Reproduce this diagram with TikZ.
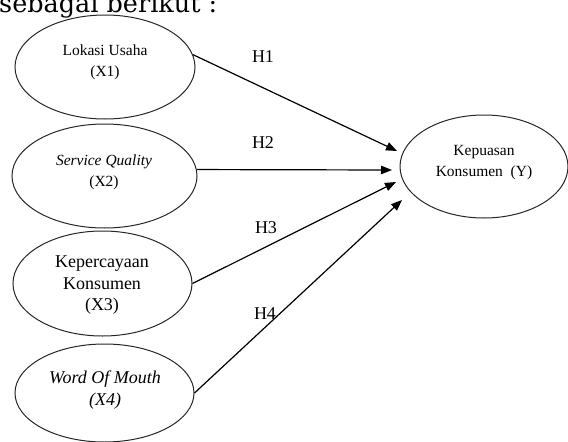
\documentclass[tikz,border=0pt]{standalone}
\usepackage{fontspec}
\usepackage{graphicx}
\setmainfont{Liberation Serif}
\newfontfamily\topfont{DejaVu Serif}
\usetikzlibrary{shapes.geometric,arrows.meta}
\begin{document}
\begin{tikzpicture}[x=1pt,y=-1pt,
  ell/.style={draw=black!85,line width=1pt,ellipse,inner sep=0pt},
  txt/.style={align=center,inner sep=0pt,text=black},
  small/.style={txt,font=\fontsize{15.5}{21}\selectfont},
  big/.style={txt,font=\fontsize{18}{21.5}\selectfont},
  hlab/.style={inner sep=0pt,font=\fontsize{18}{20}\selectfont},
  arr/.style={line width=1.2pt,-{Triangle[length=11pt,width=8.5pt]}}]
\useasboundingbox (0,0) rectangle (568,442);
\begin{scope}
\clip (0,0) rectangle (568,442);
\node[anchor=base west,inner sep=0pt,font=\topfont\fontsize{25.5}{28}\selectfont] (top) at (-1,12.5) {sebagai berikut :};
\node[ell,minimum width=180pt,minimum height=104pt] (x1) at (105,67) {};
\node[ell,minimum width=185pt,minimum height=104pt] (x2) at (104.5,176) {};
\node[ell,minimum width=179pt,minimum height=105pt] (x3) at (102.5,283.5) {};
\node[ell,minimum width=179pt,minimum height=98pt] (x4) at (104.5,393) {};
\node[ell,minimum width=168pt,minimum height=103pt] (y) at (484,166.5) {};
\end{scope}
\node[small] (t1) at (105,62.5) {Lokasi Usaha\\(X1)};
\node[small] (t2) at (104,172) {\itshape Service Quality\\(X2)};
\node[big] (t3) at (102,285.5) {Kepercayaan\\Konsumen\\(X3)};
\node[big] (t4) at (105,390) {\itshape Word Of Mouth\\\itshape (X4)};
\node[small] (ty) at (484,162.5) {Kepuasan\\Konsumen\ \ (Y)};
\coordinate (e1) at (397,151);
\coordinate (e2) at (392,170);
\coordinate (e3) at (396,182);
\coordinate (e4) at (402,200);
\draw[arr] (x1.8) -- (e1);
\draw[arr] (x2.4) -- (e2);
\draw[arr] (x3.east) -- (e3);
\draw[arr] (x4.east) -- (e4);
\node[hlab] (h1) at (263,57) {H1};
\node[hlab] (h2) at (263,143) {H2};
\node[hlab] (h3) at (266,228) {H3};
\node[hlab] (h4) at (265,314) {H4};
\end{tikzpicture}
\end{document}
